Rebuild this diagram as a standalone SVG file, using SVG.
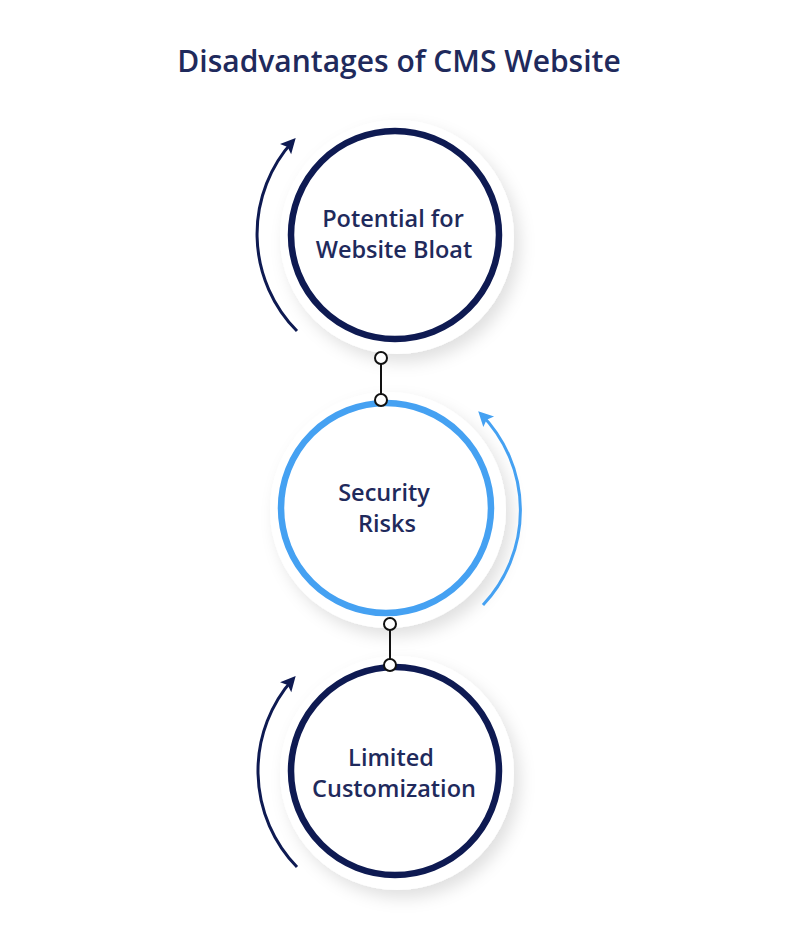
<svg xmlns="http://www.w3.org/2000/svg" width="800" height="944" viewBox="0 0 800 944">
<style>
.t{font-family:"Open Sans","Noto Sans","Liberation Sans",sans-serif;font-weight:600;fill:#1f2a5c;text-anchor:middle}
.title{font-size:30px;font-weight:600}
.lbl{font-size:23.5px}
.halo{fill:#ffffff;filter:url(#sh)}
.ring{fill:#ffffff;stroke-width:6.5}
.dark{stroke:#0e1a52}
.blue{stroke:#45a1f2}
.arc{fill:none;stroke-width:3}
.dot{fill:#ffffff;stroke:#111;stroke-width:2}
.ln{stroke:#111;stroke-width:2}
</style>
<defs>
<filter id="sh" x="-30%" y="-30%" width="160%" height="160%">
<feDropShadow dx="6" dy="8" stdDeviation="8" flood-color="#000" flood-opacity="0.12"/>
</filter>
<marker id="ad" markerWidth="20" markerHeight="20" refX="0" refY="0" markerUnits="userSpaceOnUse" orient="auto" overflow="visible">
<path d="M4,0 L-11,-7.5 L-8,0 L-11,7.5 z" fill="#0e1a52"/>
</marker>
<marker id="ab" markerWidth="20" markerHeight="20" refX="0" refY="0" markerUnits="userSpaceOnUse" orient="auto" overflow="visible">
<path d="M4,0 L-11,-7.5 L-8,0 L-11,7.5 z" fill="#45a1f2"/>
</marker>
</defs>
<rect width="800" height="944" fill="#ffffff"/>
<text class="t title" x="399" y="72">Disadvantages of CMS Website</text>

<g id="node1">
<circle class="halo" cx="397" cy="237" r="117"/>
<circle class="ring dark" cx="395" cy="235" r="104"/>
<text class="t lbl" x="393" y="227">Potential for</text>
<text class="t lbl" x="394" y="258">Website Bloat</text>
</g>
<g id="node2">
<circle class="halo" cx="388" cy="510" r="118"/>
<circle class="ring blue" cx="386" cy="508" r="105"/>
<text class="t lbl" x="384" y="501">Security</text>
<text class="t lbl" x="387" y="532">Risks</text>
</g>
<g id="node3">
<circle class="halo" cx="397" cy="773" r="117"/>
<circle class="ring dark" cx="395" cy="771" r="104"/>
<text class="t lbl" x="391" y="766">Limited</text>
<text class="t lbl" x="394" y="797">Customization</text>
</g>

<g id="connectors">
<path class="arc dark" d="M297,331 A138,138 0 0 1 293,141" marker-end="url(#ad)"/>
<path class="arc blue" d="M483,605 A138,138 0 0 0 481,414" marker-end="url(#ab)"/>
<path class="arc dark" d="M297,867 A138,138 0 0 1 293,679" marker-end="url(#ad)"/>
<line class="ln" x1="381" y1="358" x2="381" y2="400"/>
<circle class="dot" cx="381" cy="358" r="6"/>
<circle class="dot" cx="381" cy="400" r="6"/>
<line class="ln" x1="390" y1="624" x2="390" y2="665"/>
<circle class="dot" cx="390" cy="624" r="6"/>
<circle class="dot" cx="390" cy="665" r="6"/>
</g>
</svg>
